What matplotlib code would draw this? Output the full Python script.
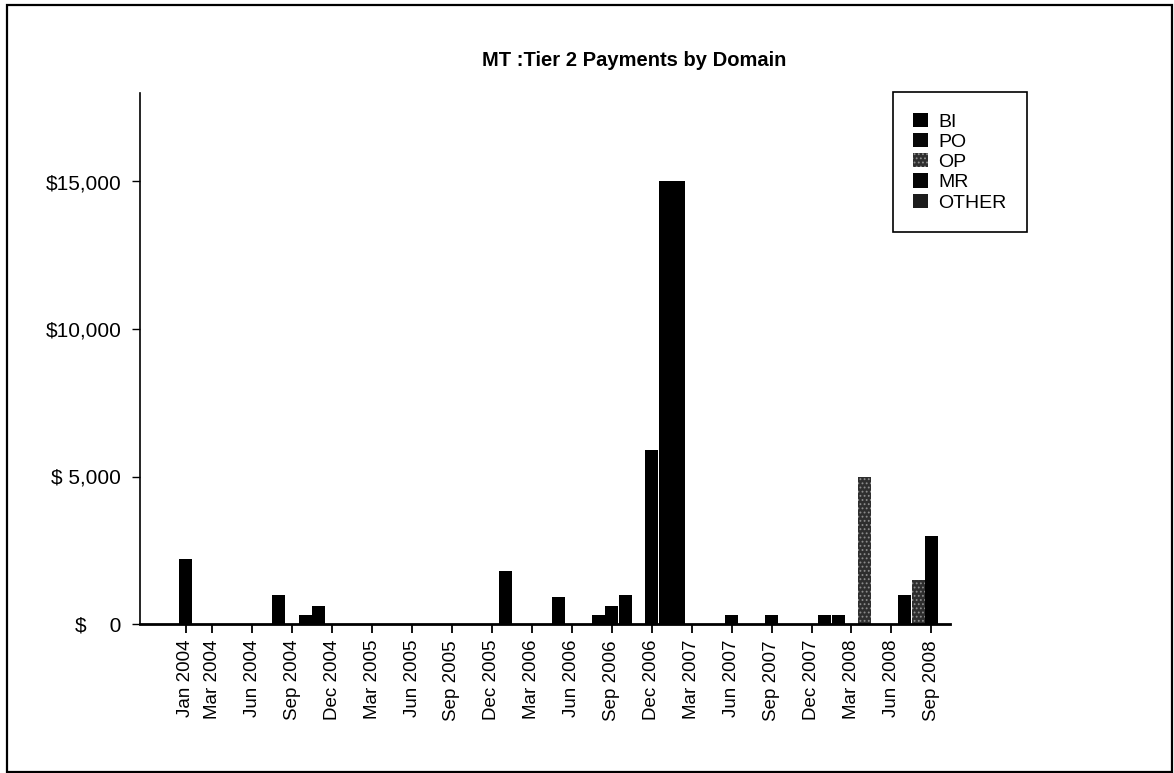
import matplotlib
matplotlib.use("Agg")
import matplotlib.pyplot as plt
from matplotlib.patches import Rectangle
import numpy as np
import pandas as pd

plt.rcParams['font.family'] = ['Liberation Sans', 'DejaVu Sans']

# ---------------- data ----------------
title = "MT :Tier 2 Payments by Domain"
series_names = ["BI", "PO", "OP", "MR", "OTHER"]

months = ["2004-01", "2004-08", "2004-10", "2004-11", "2006-01",
          "2006-05", "2006-08", "2006-09", "2006-10", "2006-12",
          "2007-01", "2007-02", "2007-06", "2007-09", "2008-01",
          "2008-02", "2008-04", "2008-07", "2008-08", "2008-09"]

BI = [2200, 1000, 300, 600, 1800,
      900, 300, 600, 1000, 5900,
      15000, 15000, 300, 300, 300,
      300, 0, 1000, 0, 3000]
PO = [0, 0, 0, 0, 0,
      0, 0, 0, 0, 0,
      0, 0, 0, 0, 0,
      0, 0, 0, 0, 0]
OP = [0, 0, 0, 0, 0,
      0, 0, 0, 0, 0,
      0, 0, 0, 0, 0,
      0, 5000, 0, 1500, 0]
MR = [0, 0, 0, 0, 0,
      0, 0, 0, 0, 0,
      0, 0, 0, 0, 0,
      0, 0, 0, 0, 0]
OTHER = [0, 0, 0, 0, 0,
         0, 0, 0, 0, 0,
         0, 0, 0, 0, 0,
         0, 0, 0, 0, 0]

x_tick_labels = ["Jan 2004", "Mar 2004", "Jun 2004", "Sep 2004", "Dec 2004",
                 "Mar 2005", "Jun 2005", "Sep 2005", "Dec 2005", "Mar 2006",
                 "Jun 2006", "Sep 2006", "Dec 2006", "Mar 2007", "Jun 2007",
                 "Sep 2007", "Dec 2007", "Mar 2008", "Jun 2008", "Sep 2008"]

y_tick_values = [0, 5000, 10000, 15000]
y_tick_labels = ["$    0", "$ 5,000", "$10,000", "$15,000"]

# ---------------- helpers ----------------
origin = pd.Period("2004-01", freq="M")

def month_index(p):
    return (p - origin).n

x = np.array([month_index(pd.Period(m, freq="M")) for m in months])
tick_pos = [month_index(pd.Period(pd.to_datetime(t, format="%b %Y"), freq="M"))
            for t in x_tick_labels]

data = {"BI": BI, "PO": PO, "OP": OP, "MR": MR, "OTHER": OTHER}
styles = {
    "BI": dict(color="#000000"),
    "PO": dict(color="#080808"),
    "OP": dict(facecolor="#2e2e2e", edgecolor="#8c8c8c", hatch="....", linewidth=0),
    "MR": dict(color="#050505"),
    "OTHER": dict(color="#1c1c1c"),
}

W, H = 1174, 773
fig = plt.figure(figsize=(W / 100, H / 100), dpi=100)
fig.patch.set_facecolor("white")
plt.rcParams['hatch.linewidth'] = 0.8

ax = fig.add_axes([140 / W, 1 - 624 / H, (950 - 140) / W, (624 - 93) / H])

bottom = np.zeros(len(months))
handles = []
for name in series_names:
    vals = np.array(data[name], dtype=float)
    bc = ax.bar(x, vals, width=0.97, bottom=bottom, label=name,
                align="center", **styles[name])
    handles.append(bc)
    bottom += vals

ax.set_xlim(-3.43, 57.4)
ax.set_ylim(0, 18000)

ax.set_xticks(tick_pos)
ax.set_xticklabels(x_tick_labels, rotation=90, fontsize=13.5)
ax.set_yticks(y_tick_values)
ax.set_yticklabels(y_tick_labels, fontsize=15)

ax.tick_params(axis="x", direction="out", length=6.5, width=1.3, pad=5)
ax.tick_params(axis="y", direction="out", length=5.5, width=1.0, pad=8)

for s in ["top", "right"]:
    ax.spines[s].set_visible(False)
ax.spines["left"].set_linewidth(1.2)
ax.spines["bottom"].set_linewidth(2.0)

fig.text(634 / W, 1 - 60 / H, title, ha="center", va="center",
         fontsize=14.5, fontweight="bold")

leg = ax.legend(handles=handles, labels=series_names,
                loc="upper left",
                bbox_to_anchor=(892.7 / W, 1 - 92.3 / H),
                bbox_transform=fig.transFigure,
                fontsize=14, frameon=True, fancybox=False,
                edgecolor="black", framealpha=1, borderaxespad=0,
                borderpad=1.05, handlelength=0.75, handleheight=0.75,
                handletextpad=0.55, labelspacing=0.12)
leg.get_frame().set_linewidth(1.2)

# outer frame of the figure
fig.patches.append(Rectangle((6.5 / W, 1.5 / H), (1172 - 6.5) / W, (771.5 - 4.5) / H,
                             transform=fig.transFigure, fill=False,
                             edgecolor="black", linewidth=1.6))

fig.savefig("out.png", dpi=100)
